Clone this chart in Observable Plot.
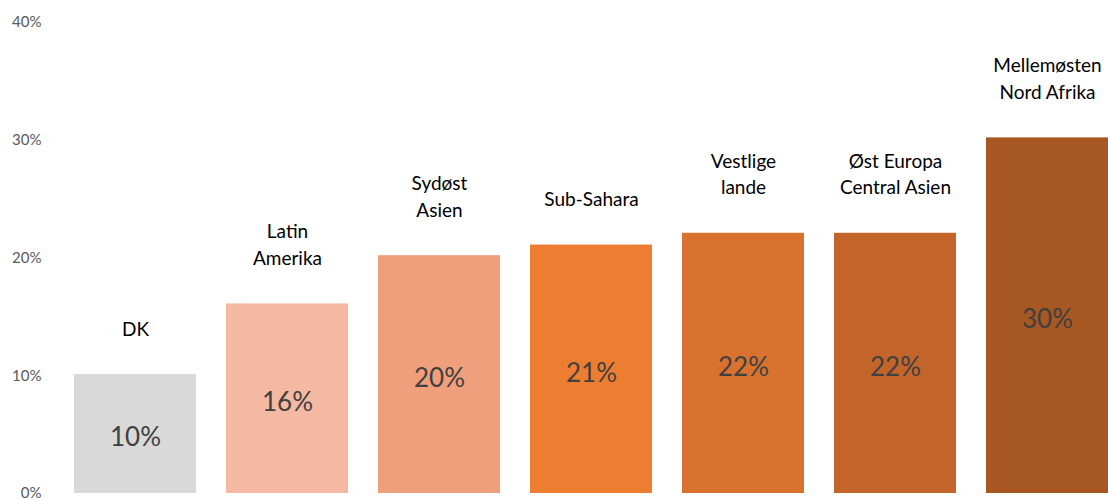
<!DOCTYPE html>
<html>
<head>
<meta charset="utf-8">
<script src="https://cdn.jsdelivr.net/npm/d3@7"></script>
<script src="https://cdn.jsdelivr.net/npm/@observablehq/plot@0.6"></script>
<style>
  html, body { margin: 0; padding: 0; background: #fff; overflow: hidden; }
  #chart svg { display: block; }
</style>
</head>
<body>
<div id="chart"></div>
<script>
const categories = ["DK", "Latin\nAmerika", "Sydøst\nAsien", "Sub-Sahara", "Vestlige\nlande", "Øst Europa\nCentral Asien", "Mellemøsten\nNord Afrika"];
const values = [0.101, 0.161, 0.202, 0.211, 0.221, 0.221, 0.302];
const barColors = ["#d9d9d9", "#f4b8a3", "#f09f7c", "#ed7d31", "#d9722f", "#c3652a", "#a65722"];
const yTicks = [0, 0.1, 0.2, 0.3, 0.4];

const data = categories.map((c, i) => ({category: c, value: values[i]}));

const W = 1108, H = 500;
const step = 152.7;
const x0 = 72 - 0.1 * step;

const chart = Plot.plot({
  width: W,
  height: H,
  marginLeft: 45,
  marginRight: 0,
  marginTop: 22,
  marginBottom: 7,
  style: {fontFamily: "Lato, sans-serif", background: "#fff"},
  x: {domain: categories, range: [x0, x0 + 7 * step], paddingInner: 0.2, paddingOuter: 0.1, axis: null},
  y: {domain: [0, 0.4], axis: null},
  color: {domain: categories, range: barColors},
  marks: [
    Plot.axisY({ticks: yTicks, tickFormat: d3.format(".0%"), tickSize: 0, tickPadding: 4, fontSize: 15, fill: "#595959", color: "#595959", label: null}),
    Plot.barY(data, {x: "category", y: "value", fill: "category", clip: true}),
    Plot.text(data, {x: "category", y: d => d.value / 2, text: d => d3.format(".0%")(d.value), fontSize: 26, fill: "#404040", dy: 4}),
    Plot.text(data, {x: "category", y: "value", text: "category", fontSize: 19, fill: "#000", lineAnchor: "bottom", lineHeight: 1.4, dy: -39})
  ]
});
document.getElementById("chart").appendChild(chart);
</script>
</body>
</html>
